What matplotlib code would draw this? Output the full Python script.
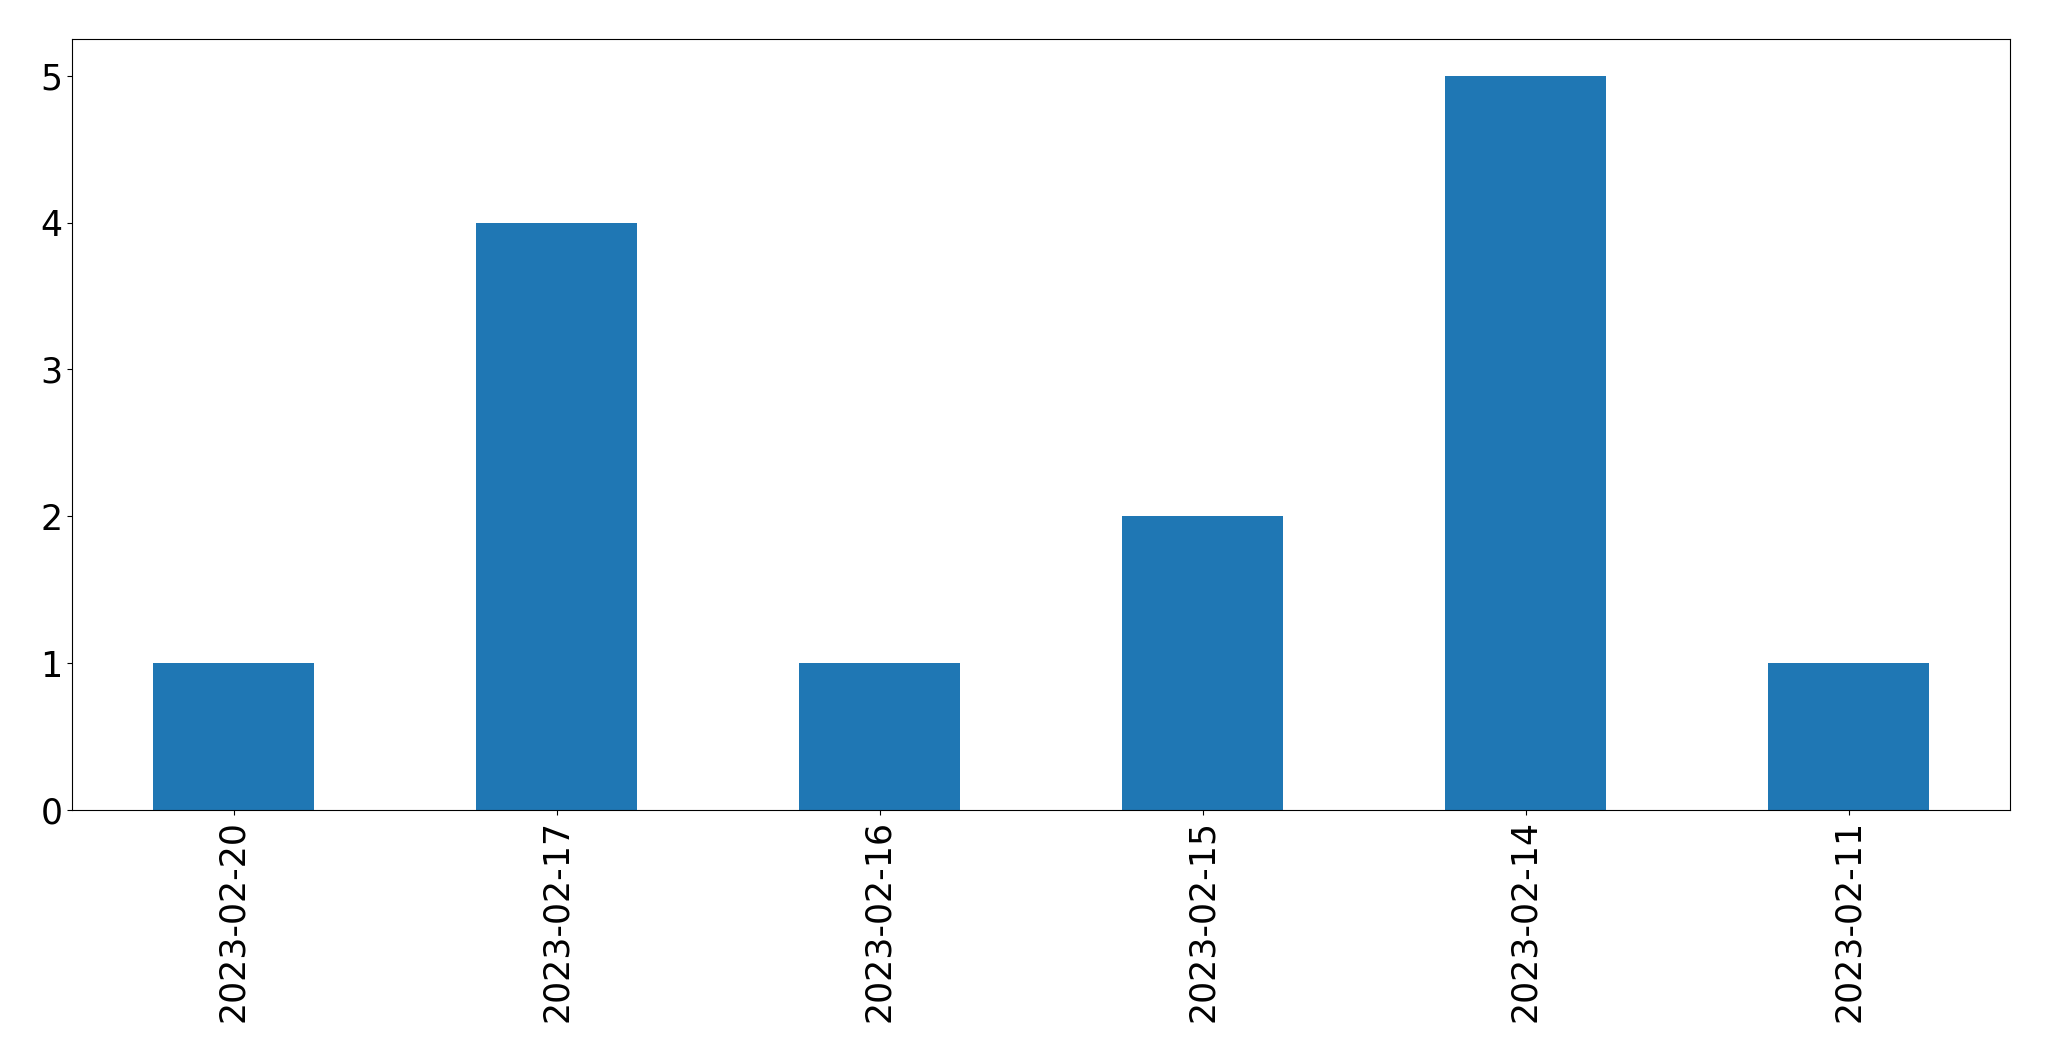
import matplotlib
matplotlib.use('Agg')
import matplotlib.pyplot as plt
import numpy as np

dates = ['2023-02-20', '2023-02-17', '2023-02-16', '2023-02-15', '2023-02-14', '2023-02-11']
counts = [1, 4, 1, 2, 5, 1]

fig = plt.figure(figsize=(20.49, 10.61), dpi=100)
ax = fig.add_axes([72/2049, 1-810/1061, (2010-72)/2049, (810-39)/1061])

x = np.arange(len(dates))
ax.bar(x, counts, width=0.5, color='#1f77b4')
ax.set_xlim(-0.5, len(dates)-0.5)
ax.set_ylim(0, 5.25)
ax.set_xticks(x)
ax.set_xticklabels(dates, rotation=90)
ax.tick_params(labelsize=25)

fig.savefig('out.png', dpi=100)
